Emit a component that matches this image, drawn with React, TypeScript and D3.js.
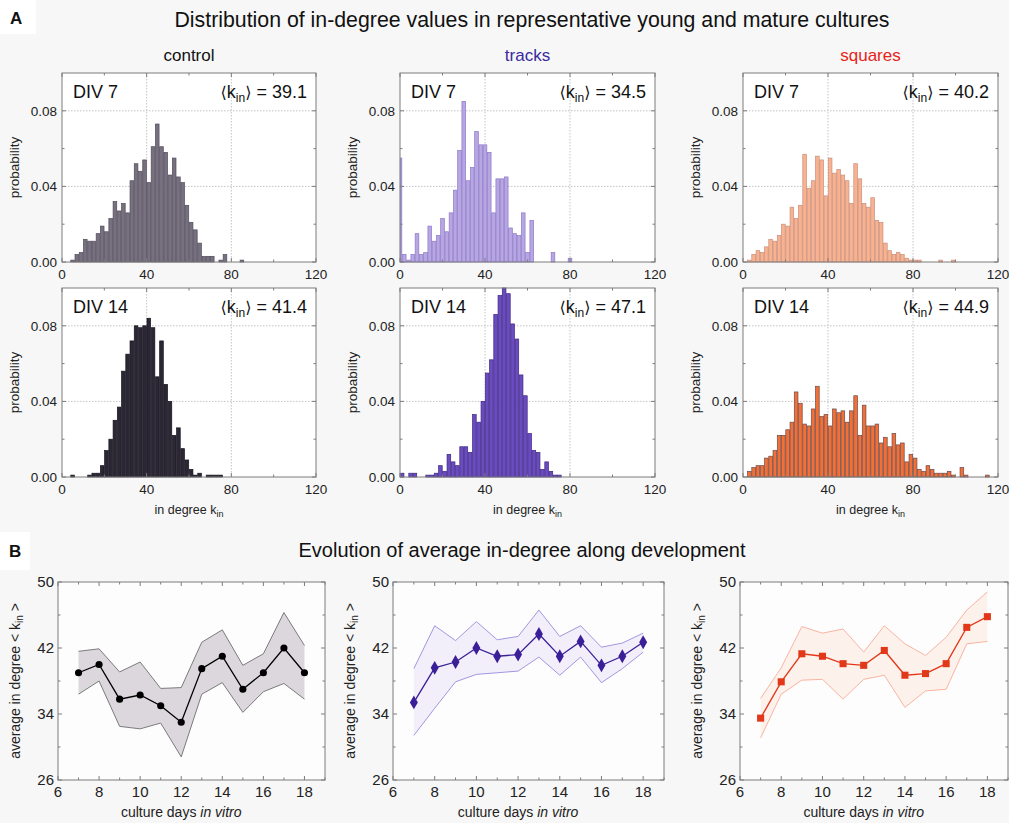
import React from 'react';
import * as d3 from 'd3';

const W = 1009;
const H = 823;
const FONT = '"Liberation Sans", Arial, "DejaVu Sans", sans-serif';

// in-degree histograms: probability per bin of width 2, centre of first bin given
const controlDiv7Start = 5;
const controlDiv7 = [0.001, 0.004, 0.005, 0.012, 0.011, 0.011, 0.015, 0.019, 0.016, 0.023, 0.032, 0.027, 0.031, 0.026, 0.043, 0.052, 0.048, 0.054, 0.042, 0.061, 0.073, 0.061, 0.058, 0.046, 0.055, 0.045, 0.042, 0.030, 0.021, 0.017, 0.010, 0.003, 0.003, 0.003, 0, 0.001, 0.004, 0, 0, 0, 0.001];

const tracksDiv7Start = 0;
const tracksDiv7 = [0.055, 0.004, 0.001, 0.004, 0.015, 0.004, 0.005, 0.019, 0.011, 0.014, 0.023, 0.016, 0.026, 0.038, 0.059, 0.085, 0.043, 0.050, 0.069, 0.062, 0.062, 0.058, 0.026, 0.044, 0.044, 0.045, 0.018, 0.015, 0.014, 0.026, 0.005, 0.022, 0, 0, 0, 0, 0.005, 0, 0, 0, 0.002];

const squaresDiv7Start = 3;
const squaresDiv7 = [0.001, 0.004, 0.006, 0.005, 0.008, 0.012, 0.011, 0.014, 0.020, 0.019, 0.029, 0.023, 0.030, 0.057, 0.039, 0.043, 0.056, 0.054, 0.035, 0.055, 0.047, 0.049, 0.046, 0.043, 0.031, 0.052, 0.044, 0.031, 0.029, 0.034, 0.022, 0.021, 0.010, 0.006, 0.004, 0.005, 0.004, 0.002, 0.001, 0.001, 0.001, 0, 0, 0, 0, 0.001, 0, 0, 0.001];

const controlDiv14Start = 5;
const controlDiv14 = [0.001, 0, 0, 0, 0.001, 0.002, 0.002, 0.006, 0.014, 0.020, 0.030, 0.037, 0.056, 0.065, 0.072, 0.080, 0.079, 0.080, 0.084, 0.079, 0.053, 0.072, 0.049, 0.040, 0.022, 0.026, 0.015, 0.009, 0.004, 0.001, 0.002, 0, 0.001, 0.001, 0.001, 0.001];

const tracksDiv14Start = 1;
const tracksDiv14 = [0.002, 0, 0.002, 0.002, 0, 0, 0.001, 0.001, 0.002, 0.006, 0.003, 0.012, 0.008, 0.006, 0.016, 0.016, 0.013, 0.033, 0.029, 0.040, 0.055, 0.062, 0.086, 0.096, 0.100, 0.097, 0.081, 0.073, 0.054, 0.043, 0.023, 0.014, 0.013, 0.004, 0.008, 0.003, 0.001, 0.001];

const squaresDiv14Start = 3;
const squaresDiv14 = [0.003, 0.005, 0.006, 0.006, 0.010, 0.011, 0.014, 0.022, 0.022, 0.025, 0.029, 0.045, 0.039, 0.028, 0.027, 0.036, 0.048, 0.032, 0.033, 0.027, 0.036, 0.034, 0.035, 0.029, 0.035, 0.043, 0.022, 0.038, 0.027, 0.027, 0.028, 0.018, 0.021, 0.016, 0.023, 0.017, 0.018, 0.008, 0.012, 0.010, 0.004, 0.003, 0.006, 0.004, 0.002, 0.002, 0.002, 0.003, 0.001, 0, 0.005, 0.001, 0, 0, 0, 0, 0.001];

// average in-degree along development
const days = [7, 8, 9, 10, 11, 12, 13, 14, 15, 16, 17, 18];
const controlMean = [39.0, 40.0, 35.8, 36.3, 35.0, 33.0, 39.5, 41.0, 37.0, 39.0, 42.0, 39.0];
const controlUpper = [41.6, 41.9, 39.1, 40.3, 37.1, 37.2, 42.7, 44.2, 39.9, 41.3, 46.3, 42.3];
const controlLower = [36.4, 38.0, 32.5, 32.2, 32.9, 28.8, 36.4, 37.8, 34.2, 36.7, 37.7, 35.8];

const tracksMean = [35.4, 39.6, 40.3, 42.0, 41.0, 41.2, 43.7, 41.0, 42.8, 39.9, 41.0, 42.7];
const tracksUpper = [39.5, 44.7, 42.9, 45.2, 43.0, 43.4, 46.6, 43.4, 44.7, 42.1, 42.6, 43.8];
const tracksLower = [31.4, 34.7, 37.9, 38.8, 39.0, 39.2, 40.9, 38.7, 40.9, 37.8, 39.5, 41.5];

const squaresMean = [33.5, 37.9, 41.3, 41.0, 40.1, 39.9, 41.7, 38.7, 38.9, 40.1, 44.5, 45.8];
const squaresUpper = [35.9, 39.6, 44.6, 43.8, 44.3, 41.5, 44.7, 42.5, 41.1, 43.3, 46.6, 48.8];
const squaresLower = [31.1, 36.4, 38.1, 38.2, 35.8, 38.2, 38.7, 34.8, 36.8, 37.0, 42.5, 42.8];

const groups = ['control', 'tracks', 'squares'];
const groupColors = ['#111111', '#3a2aa0', '#e8231a'];

const histCols = [
  { x0: 62, w: 254 },
  { x0: 400, w: 255 },
  { x0: 743, w: 255 },
];
const histRows = [73, 288];
const histH = 189;

const grid = '#c4c4c4';
const frame = '#7d7d7d';

function Histogram({ x0, y0, w, h, start, values, fill, stroke, div, mean, xLabel }) {
  const x = d3.scaleLinear().domain([0, 120]).range([x0, x0 + w]);
  const y = d3.scaleLinear().domain([0, 0.1]).range([y0 + h, y0]);
  const xMajor = [0, 40, 80, 120];
  const xMinor = [20, 60, 100];
  const yMajor = [0, 0.04, 0.08];
  const yMinor = [0.02, 0.06];
  const fmt = d3.format('.2f');
  return (
    <g>
      <rect x={x0} y={y0} width={w} height={h} fill="#fff" />
      {[40, 80].map((t) => (
        <line key={'gx' + t} x1={x(t)} x2={x(t)} y1={y0} y2={y0 + h} stroke={grid} strokeDasharray="1.5,1.5" />
      ))}
      {[0.04, 0.08].map((t) => (
        <line key={'gy' + t} x1={x0} x2={x0 + w} y1={y(t)} y2={y(t)} stroke={grid} strokeDasharray="1.5,1.5" />
      ))}
      {values.map((v, i) => {
        if (!v) return null;
        const c = start + 2 * i;
        const l = x(Math.max(0, c - 1));
        const r = x(c + 1);
        return (
          <rect key={i} x={l + 0.3} y={y(v)} width={r - l - 0.6} height={y(0) - y(v)}
            fill={fill} stroke={stroke} strokeWidth={0.7} />
        );
      })}
      <rect x={x0} y={y0} width={w} height={h} fill="none" stroke={frame} strokeWidth={1} />
      {xMajor.concat(xMinor).map((t) => {
        const len = xMajor.includes(t) ? 4 : 2.5;
        return (
          <g key={'tx' + t}>
            <line x1={x(t)} x2={x(t)} y1={y0 + h} y2={y0 + h - len} stroke={frame} />
            <line x1={x(t)} x2={x(t)} y1={y0} y2={y0 + len} stroke={frame} />
          </g>
        );
      })}
      {yMajor.concat(yMinor).map((t) => {
        const len = yMajor.includes(t) ? 4 : 2.5;
        return (
          <g key={'ty' + t}>
            <line x1={x0} x2={x0 + len} y1={y(t)} y2={y(t)} stroke={frame} />
            <line x1={x0 + w} x2={x0 + w - len} y1={y(t)} y2={y(t)} stroke={frame} />
          </g>
        );
      })}
      {xMajor.map((t) => (
        <text key={'lx' + t} x={x(t)} y={y0 + h + 16.5} textAnchor="middle" fontSize={13.5} fill="#222">{t}</text>
      ))}
      {yMajor.map((t) => (
        <text key={'ly' + t} x={x0 - 5} y={y(t)} dy="0.35em" textAnchor="end" fontSize={13.5} fill="#222">{fmt(t)}</text>
      ))}
      <text transform={`translate(${x0 - 43},${y0 + h / 2}) rotate(-90)`} textAnchor="middle" fontSize={13.5} fill="#222">probability</text>
      <text x={x0 + 11} y={y0 + 25} fontSize={18} fill="#111">{div}</text>
      <text x={x0 + w - 9} y={y0 + 25} textAnchor="end" fontSize={18} fill="#111">
        <tspan fontFamily="DejaVu Sans" fontSize={16}>⟨</tspan>k<tspan fontSize={12} dy={4}>in</tspan>
        <tspan dy={-4} fontFamily="DejaVu Sans" fontSize={16}>⟩</tspan><tspan> = {mean}</tspan>
      </text>
      {xLabel && (
        <text x={x0 + w / 2} y={y0 + h + 37} textAnchor="middle" fontSize={12.5} fill="#222">
          in degree k<tspan fontSize={9} dy={3}>in</tspan>
        </text>
      )}
    </g>
  );
}

const evoCols = [
  { x0: 58, w: 267 },
  { x0: 393, w: 271 },
  { x0: 740, w: 268 },
];
const evoTop = 582;
const evoH = 198;

function Evolution({ x0, w, mean, upper, lower, bandFill, bandStroke, lineColor, symbol, symbolSize }) {
  const y0 = evoTop;
  const h = evoH;
  const x = d3.scaleLinear().domain([6, 19]).range([x0, x0 + w]);
  const y = d3.scaleLinear().domain([26, 50]).range([y0 + h, y0]);
  const area = d3.area<number>().x((d, i) => x(days[i])).y0((d, i) => y(lower[i])).y1((d, i) => y(upper[i]));
  const line = d3.line<number>().x((d, i) => x(days[i])).y((d) => y(d));
  const sym = d3.symbol().type(symbol).size(symbolSize)();
  const xTicks = d3.range(6, 20);
  const yMajor = [26, 34, 42, 50];
  const yMinor = [30, 38, 46];
  return (
    <g>
      <rect x={x0} y={y0} width={w} height={h} fill="#fdfdfd" />
      <path d={area(days) || ''} fill={bandFill} />
      <path d={line(upper) || ''} fill="none" stroke={bandStroke} strokeWidth={0.9} />
      <path d={line(lower) || ''} fill="none" stroke={bandStroke} strokeWidth={0.9} />
      <path d={line(mean) || ''} fill="none" stroke={lineColor} strokeWidth={1.3} />
      {mean.map((v, i) => (
        <path key={i} d={sym || ''} transform={`translate(${x(days[i])},${y(v)})`} fill={lineColor} />
      ))}
      <rect x={x0} y={y0} width={w} height={h} fill="none" stroke={frame} strokeWidth={1} />
      {xTicks.map((t) => {
        const len = t % 2 === 0 ? 4 : 2.5;
        return (
          <g key={'tx' + t}>
            <line x1={x(t)} x2={x(t)} y1={y0 + h} y2={y0 + h - len} stroke={frame} />
            <line x1={x(t)} x2={x(t)} y1={y0} y2={y0 + len} stroke={frame} />
          </g>
        );
      })}
      {yMajor.concat(yMinor).map((t) => {
        const len = yMajor.includes(t) ? 4 : 2.5;
        return (
          <g key={'ty' + t}>
            <line x1={x0} x2={x0 + len} y1={y(t)} y2={y(t)} stroke={frame} />
            <line x1={x0 + w} x2={x0 + w - len} y1={y(t)} y2={y(t)} stroke={frame} />
          </g>
        );
      })}
      {xTicks.filter((t) => t % 2 === 0 && t <= 18).map((t) => (
        <text key={'lx' + t} x={x(t)} y={y0 + h + 17} textAnchor="middle" fontSize={15} fill="#222">{t}</text>
      ))}
      {yMajor.map((t) => (
        <text key={'ly' + t} x={x0 - 4} y={y(t)} dy="0.36em" textAnchor="end" fontSize={15} fill="#222">{t}</text>
      ))}
      <text transform={`translate(${x0 - 38},${y0 + h / 2}) rotate(-90)`} textAnchor="middle" fontSize={14} fill="#222">
        average in degree  {'<'} k<tspan fontSize={10} dy={3}>in</tspan><tspan dy={-3}> {'>'}</tspan>
      </text>
      <text x={(x(6) + x(18)) / 2} y={817} textAnchor="middle" fontSize={14} fill="#222">
        culture days <tspan fontStyle="italic">in vitro</tspan>
      </text>
    </g>
  );
}

const histStyles = [
  [
    { fill: '#77707f', stroke: '#524b5c' },
    { fill: '#b7a6e2', stroke: '#8c78c9' },
    { fill: '#f8b290', stroke: '#c98e7c' },
  ],
  [
    { fill: '#2b2735', stroke: '#17141f' },
    { fill: '#6b4cc0', stroke: '#3c2680' },
    { fill: '#f26f36', stroke: '#6a4a4c' },
  ],
];

export default function App() {
  const hist = [
    [
      { start: controlDiv7Start, values: controlDiv7, mean: '39.1' },
      { start: tracksDiv7Start, values: tracksDiv7, mean: '34.5' },
      { start: squaresDiv7Start, values: squaresDiv7, mean: '40.2' },
    ],
    [
      { start: controlDiv14Start, values: controlDiv14, mean: '41.4' },
      { start: tracksDiv14Start, values: tracksDiv14, mean: '47.1' },
      { start: squaresDiv14Start, values: squaresDiv14, mean: '44.9' },
    ],
  ];
  const evo = [
    { mean: controlMean, upper: controlUpper, lower: controlLower, bandFill: '#dbd7dd', bandStroke: '#6e6e6e', lineColor: '#000', symbol: d3.symbolCircle, symbolSize: 40 },
    { mean: tracksMean, upper: tracksUpper, lower: tracksLower, bandFill: '#f2effa', bandStroke: '#988bdb', lineColor: '#3b1f98', symbol: d3.symbolDiamond, symbolSize: 55 },
    { mean: squaresMean, upper: squaresUpper, lower: squaresLower, bandFill: '#fdf1eb', bandStroke: '#f7ad96', lineColor: '#e2381a', symbol: d3.symbolSquare, symbolSize: 50 },
  ];
  return (
    <svg width={W} height={H} style={{ position: 'absolute', left: 0, top: 0 }} fontFamily={FONT}>
      <rect width={W} height={H} fill="#f7f7f7" />
      <rect x={0} y={0} width={36} height={34} fill="#fff" />
      <text x={10} y={24} fontSize={17} fontWeight="bold" fill="#111">A</text>
      <text x={532} y={27} textAnchor="middle" fontSize={21.3} fill="#111">
        Distribution of in-degree values in representative young and mature cultures
      </text>
      {groups.map((g, i) => (
        <text key={g} x={histCols[i].x0 + histCols[i].w / 2} y={61} textAnchor="middle" fontSize={17} fill={groupColors[i]}>{g}</text>
      ))}
      {histRows.map((y0, r) =>
        histCols.map((c, i) => (
          <Histogram key={r + '-' + i} x0={c.x0} y0={y0} w={c.w} h={histH}
            start={hist[r][i].start} values={hist[r][i].values}
            fill={histStyles[r][i].fill} stroke={histStyles[r][i].stroke}
            div={r === 0 ? 'DIV 7' : 'DIV 14'} mean={hist[r][i].mean} xLabel={r === 1} />
        ))
      )}
      <rect x={0} y={532} width={30} height={38} fill="#fff" />
      <text x={9} y={557} fontSize={17} fontWeight="bold" fill="#111">B</text>
      <text x={522} y={557} textAnchor="middle" fontSize={20} fill="#111">
        Evolution of average in-degree along development
      </text>
      {evoCols.map((c, i) => (
        <Evolution key={i} x0={c.x0} w={c.w} {...evo[i]} />
      ))}
    </svg>
  );
}
